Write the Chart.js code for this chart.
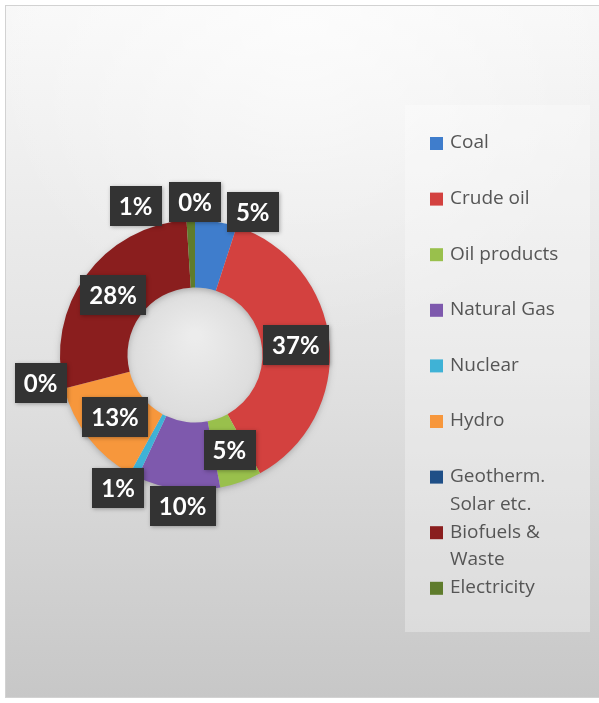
<!DOCTYPE html>
<html>
<head>
<meta charset="utf-8">
<script src="https://cdn.jsdelivr.net/npm/chart.js@4.4.1/dist/chart.umd.min.js"></script>
<style>
  html, body { margin: 0; padding: 0; background: #fff; }
  canvas { display: block; }
</style>
</head>
<body>
<canvas id="energyChart" width="599" height="703"></canvas>
<script>
// energy supply shares, clockwise from 12 o'clock
const categories = [
  "Coal",
  "Crude oil",
  "Oil products",
  "Natural Gas",
  "Nuclear",
  "Hydro",
  ["Geotherm.", "Solar etc."],
  ["Biofuels &", "Waste"],
  "Electricity",
  "Heat",
];
const shares = [5, 37, 5, 10, 1, 13, 0, 28, 1, 0];
const sliceColors = [
  "#3f7dcc",
  "#d3413f",
  "#99c04c",
  "#7e59ad",
  "#3fb2d6",
  "#f7973c",
  "#1f4f87",
  "#8a1e1e",
  "#5f7c2c",
  "#5b4a82",
];
// items that show up in the legend box (Heat is left out)
const legendCount = 9;

// where each percent box sits: null = middle of the ring,
// number = pixels outside the ring; plus a small turn in degrees
const labelOutside = [19, null, null, 17, 19, null, 22, null, 25, 18];
const labelTurn = [13, 0, 0, -2.5, 3, 0, 4, 0, -20, 0];

const total = shares.reduce((a, b) => a + b, 0);

const backdrop = {
  id: "backdrop",
  beforeDraw(chart) {
    const ctx = chart.ctx;
    const W = chart.width, H = chart.height;
    ctx.save();
    ctx.fillStyle = "#ffffff";
    ctx.fillRect(0, 0, W, H);
    const g = ctx.createLinearGradient(0, 5, 0, 698);
    g.addColorStop(0, "#f8f8f8");
    g.addColorStop(0.5, "#e3e3e3");
    g.addColorStop(1, "#c7c7c7");
    ctx.fillStyle = g;
    ctx.fillRect(5, 5, W - 5, 693);
    const rg = ctx.createRadialGradient(300, 20, 10, 300, 20, 320);
    rg.addColorStop(0, "rgba(255,255,255,0.6)");
    rg.addColorStop(1, "rgba(255,255,255,0)");
    ctx.fillStyle = rg;
    ctx.fillRect(5, 5, W - 5, 693);
    ctx.strokeStyle = "#d2d2d2";
    ctx.lineWidth = 1;
    ctx.strokeRect(5.5, 5.5, W, 692);
    ctx.restore();
  },
  beforeDatasetsDraw(chart) {
    // soft shadow under the ring, lighter hole in the middle
    const arc = chart.getDatasetMeta(0).data[0];
    if (!arc) return;
    const { x, y, innerRadius, outerRadius } = arc.getProps(["x", "y", "innerRadius", "outerRadius"], true);
    const ctx = chart.ctx;
    ctx.save();
    const hole = ctx.createRadialGradient(x, y - 20, 5, x, y, innerRadius);
    hole.addColorStop(0, "#ececec");
    hole.addColorStop(1, "#dcdcdc");
    ctx.fillStyle = hole;
    ctx.beginPath();
    ctx.arc(x, y, innerRadius, 0, Math.PI * 2);
    ctx.fill();
    ctx.shadowColor = "rgba(0,0,0,0.28)";
    ctx.shadowBlur = 7;
    ctx.shadowOffsetY = 2;
    ctx.fillStyle = "#d8d8d8";
    ctx.beginPath();
    ctx.arc(x, y, outerRadius - 1, 0, Math.PI * 2);
    ctx.arc(x, y, innerRadius + 1, 0, Math.PI * 2, true);
    ctx.fill();
    ctx.restore();
  },
};

const percentBoxes = {
  id: "percentBoxes",
  afterDatasetsDraw(chart) {
    const ctx = chart.ctx;
    const meta = chart.getDatasetMeta(0);
    ctx.save();
    ctx.font = "bold 24px Lato";
    ctx.textAlign = "center";
    ctx.textBaseline = "middle";
    meta.data.forEach((arc, i) => {
      const p = arc.getProps(["x", "y", "startAngle", "endAngle", "innerRadius", "outerRadius"], true);
      const ang = (p.startAngle + p.endAngle) / 2 + (labelTurn[i] * Math.PI) / 180;
      const r = labelOutside[i] === null ? (p.innerRadius + p.outerRadius) / 2 : p.outerRadius + labelOutside[i];
      const lx = p.x + Math.cos(ang) * r;
      const ly = p.y + Math.sin(ang) * r;
      const text = Math.round((shares[i] / total) * 100) + "%";
      const w = ctx.measureText(text).width + 18;
      const h = 40;
      ctx.shadowColor = "rgba(0,0,0,0.3)";
      ctx.shadowBlur = 4;
      ctx.shadowOffsetX = 1;
      ctx.shadowOffsetY = 1;
      ctx.fillStyle = "#333333";
      ctx.fillRect(Math.round(lx - w / 2), Math.round(ly - h / 2), Math.round(w), h);
      ctx.shadowColor = "transparent";
      ctx.fillStyle = "#ffffff";
      ctx.fillText(text, lx, ly + 1);
    });
    ctx.restore();
  },
};

const legendBox = {
  id: "legendBox",
  afterDraw(chart) {
    const ctx = chart.ctx;
    ctx.save();
    ctx.fillStyle = "rgba(255,255,255,0.3)";
    ctx.fillRect(405, 105, 185, 527);
    ctx.font = "19px 'Open Sans'";
    ctx.textAlign = "left";
    ctx.textBaseline = "middle";
    for (let i = 0; i < legendCount; i++) {
      const y = 143 + i * 55.6;
      ctx.fillStyle = sliceColors[i];
      ctx.fillRect(430, y - 6, 13, 13);
      ctx.fillStyle = "#555555";
      const lines = [].concat(chart.data.labels[i]);
      lines.forEach((line, k) => ctx.fillText(line, 450, y + k * 27.5));
    }
    ctx.restore();
  },
};

new Chart(document.getElementById("energyChart"), {
  type: "doughnut",
  data: {
    labels: categories,
    datasets: [
      {
        data: shares,
        backgroundColor: sliceColors,
        borderWidth: 0,
        hoverOffset: 0,
      },
    ],
  },
  options: {
    responsive: false,
    animation: false,
    cutout: "50%",
    layout: {
      padding: { left: 60, top: 220, right: 269, bottom: 213 },
    },
    plugins: {
      legend: { display: false },
      tooltip: { enabled: false },
    },
  },
  plugins: [backdrop, percentBoxes, legendBox],
});
</script>
</body>
</html>
